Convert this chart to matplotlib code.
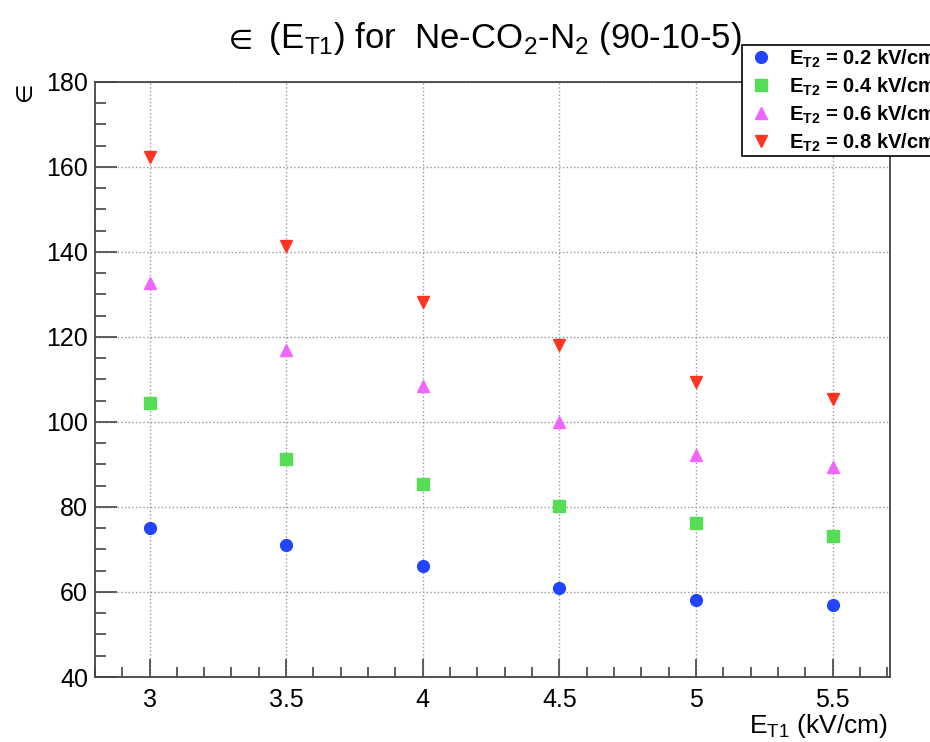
import matplotlib.pyplot as plt
from matplotlib.ticker import MultipleLocator

plt.rcParams['font.family'] = ['Liberation Sans', 'DejaVu Sans']
plt.rcParams['mathtext.fontset'] = 'custom'
plt.rcParams['mathtext.rm'] = 'Liberation Sans'
plt.rcParams['mathtext.bf'] = 'Liberation Sans:bold'
plt.rcParams['mathtext.fallback'] = 'stixsans'

# drift field E_T1 (kV/cm) and gain epsilon for each E_T2 setting
e_t1 = [3.0, 3.5, 4.0, 4.5, 5.0, 5.5]
eps_02 = [75.0, 71.0, 66.0, 61.0, 58.0, 57.0]
eps_04 = [104.4, 91.2, 85.3, 80.2, 76.2, 73.1]
eps_06 = [132.8, 117.0, 108.4, 100.1, 92.2, 89.3]
eps_08 = [162.4, 141.5, 128.3, 118.2, 109.5, 105.5]
labels = [r'$\mathbf{E}_{\mathbf{T2}}$ = 0.2 kV/cm',
          r'$\mathbf{E}_{\mathbf{T2}}$ = 0.4 kV/cm',
          r'$\mathbf{E}_{\mathbf{T2}}$ = 0.6 kV/cm',
          r'$\mathbf{E}_{\mathbf{T2}}$ = 0.8 kV/cm']

fig = plt.figure(figsize=(9.3, 7.42), dpi=100)
ax = fig.add_axes([0.102, 0.0876, 0.855, 0.802])

ax.plot(e_t1, eps_02, 'o', color='#2244ff', ms=8.5, ls='none', label=labels[0])
ax.plot(e_t1, eps_04, 's', color='#55dd55', ms=8, ls='none', label=labels[1])
ax.plot(e_t1, eps_06, '^', color='#ee66ff', ms=8.5, ls='none', label=labels[2])
ax.plot(e_t1, eps_08, 'v', color='#ff3322', ms=8.5, ls='none', label=labels[3])

ax.set_xlim(2.8, 5.71)
ax.set_ylim(40, 180)
ax.xaxis.set_major_locator(MultipleLocator(0.5))
ax.xaxis.set_minor_locator(MultipleLocator(0.1))
ax.yaxis.set_major_locator(MultipleLocator(20))
ax.yaxis.set_minor_locator(MultipleLocator(5))
ax.set_xticks([3, 3.5, 4, 4.5, 5, 5.5])
ax.set_xticklabels(['3', '3.5', '4', '4.5', '5', '5.5'])
ax.tick_params(which='both', direction='in', width=1.2, labelsize=18, color='#444444')
ax.tick_params(axis='y', which='major', length=16, pad=5)
ax.tick_params(axis='y', which='minor', length=8)
ax.tick_params(axis='x', which='major', length=13, pad=8)
ax.tick_params(axis='x', which='minor', length=7)
ax.grid(True, which='major', ls=':', color='#999999', lw=1)
for s in ax.spines.values():
    s.set_color('#444444')
    s.set_linewidth(1.3)

fig.text(222 / 930, 0.948, r'${\in}$ (E$_{\mathrm{T1}}$) for  Ne-CO$_{2}$-N$_{2}$ (90-10-5)',
         ha='left', va='center', fontsize=25)
fig.text(0.955, 0.022, r'E$_{\mathrm{T1}}$ (kV/cm)', ha='right', va='center', fontsize=19)
fig.text(0.028, 0.876, '\u2208', rotation=90, ha='center', va='center', fontsize=16)

# the legend box runs past the right edge of the canvas
handles, _ = ax.get_legend_handles_labels()
leg = fig.legend(handles, labels, loc='upper left', bbox_to_anchor=(742 / 930, 1 - 45 / 742),
                 frameon=True, fancybox=False, framealpha=1,
                 prop={'weight': 'bold', 'size': 14.5}, handletextpad=0.6,
                 borderpad=0.12, labelspacing=0.28, handlelength=1.6, borderaxespad=0)
leg.get_frame().set_edgecolor('black')
leg.get_frame().set_linewidth(1.2)

fig.savefig('out.png', dpi=100)
